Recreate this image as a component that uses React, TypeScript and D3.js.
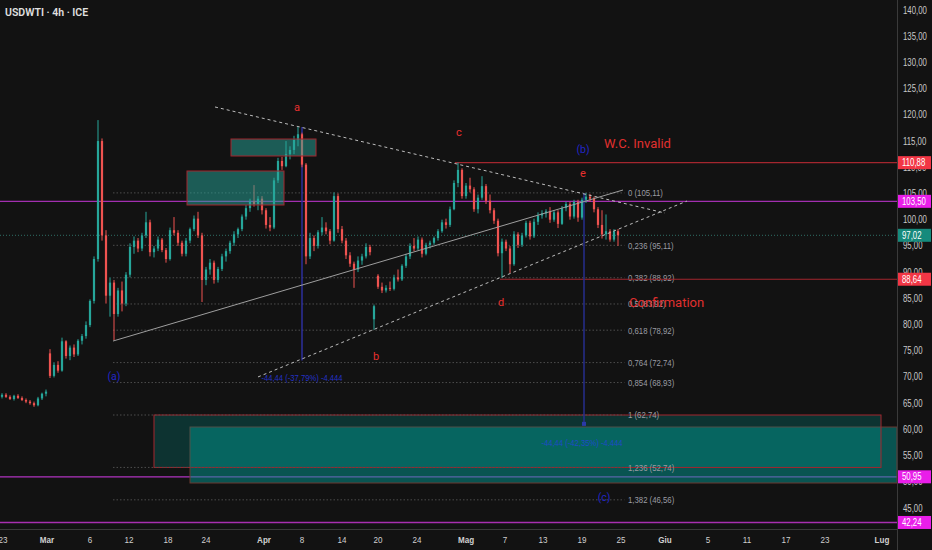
import React from 'react';
import * as d3 from 'd3';

const W = 932;
const H = 550;
const PLOT_R = 897;
const AXIS_Y = 529;

// 4h candles, [open, high, low, close]
const candles: [number, number, number, number][] = [
  [66.2, 66.9, 65.9, 66.6], [66.6, 66.9, 66.0, 66.2], [66.2, 66.5, 65.6, 65.8], [65.8, 66.6, 65.5, 66.4],
  [66.4, 66.7, 65.8, 66.0], [66.0, 66.3, 65.4, 65.6], [65.6, 65.9, 65.0, 65.3], [65.3, 65.6, 64.7, 65.0],
  [65.0, 65.3, 64.3, 64.6], [64.6, 66.2, 64.4, 65.9], [65.9, 67.0, 65.6, 66.8], [66.8, 67.6, 66.3, 67.2],
  [74.5, 75.3, 69.8, 70.2], [70.2, 72.8, 69.9, 72.3], [72.3, 73.0, 70.8, 71.2], [71.2, 77.5, 71.0, 76.8],
  [76.8, 77.0, 73.5, 74.0], [74.0, 76.0, 73.2, 75.6], [75.6, 76.2, 73.8, 74.3], [74.3, 77.2, 74.0, 76.9],
  [76.9, 78.2, 76.2, 77.8], [77.8, 80.6, 77.3, 79.9], [79.9, 84.8, 79.5, 84.5], [84.5, 93.0, 84.0, 92.5],
  [92.5, 119.0, 92.0, 115.0], [115.0, 115.5, 96.0, 97.0], [97.0, 98.0, 84.0, 85.5], [85.5, 89.0, 81.5, 88.0],
  [88.0, 88.5, 77.0, 82.0], [82.0, 87.0, 81.5, 86.5], [86.5, 88.2, 82.5, 84.0], [84.0, 90.0, 83.5, 89.5],
  [89.5, 95.5, 89.0, 94.8], [94.8, 96.8, 93.5, 96.0], [96.0, 96.5, 93.8, 94.5], [94.5, 97.5, 94.0, 97.0],
  [97.0, 101.5, 96.5, 99.5], [99.5, 100.0, 93.0, 93.8], [93.8, 95.0, 92.8, 94.5], [94.5, 96.8, 94.0, 96.2],
  [96.2, 96.5, 93.8, 94.2], [94.2, 94.6, 91.8, 92.5], [92.5, 98.5, 92.2, 98.0], [98.0, 100.5, 97.0, 97.5],
  [97.5, 98.0, 95.0, 95.6], [95.6, 96.0, 93.0, 93.5], [93.5, 96.5, 93.0, 96.0], [96.0, 98.5, 95.5, 98.2],
  [98.2, 100.8, 97.8, 100.2], [100.2, 101.5, 96.5, 97.0], [97.0, 97.5, 84.3, 88.5], [88.5, 91.0, 87.5, 90.5],
  [90.5, 92.5, 89.5, 91.8], [91.8, 92.2, 87.8, 88.5], [88.5, 91.0, 88.0, 90.6], [90.6, 93.5, 90.2, 93.0],
  [93.0, 94.5, 92.0, 94.0], [94.0, 96.0, 93.5, 95.6], [95.6, 97.8, 95.0, 97.2], [97.2, 98.5, 96.5, 98.2],
  [98.2, 101.0, 97.8, 100.6], [100.6, 102.8, 100.0, 102.2], [102.2, 104.0, 101.5, 103.5], [103.5, 106.6, 102.5, 103.0],
  [103.0, 104.5, 101.8, 104.0], [104.0, 104.5, 101.0, 101.8], [101.8, 102.2, 98.3, 99.0], [99.0, 100.5, 97.8, 98.5],
  [98.5, 108.0, 98.2, 107.5], [107.5, 111.8, 107.0, 111.2], [111.2, 112.0, 109.5, 110.2], [110.2, 115.0, 110.0, 112.5],
  [112.5, 114.0, 111.5, 113.3], [113.3, 116.0, 112.5, 115.2], [115.2, 117.7, 114.0, 116.3], [116.3, 116.6, 110.0, 110.5],
  [110.5, 110.8, 91.5, 93.0], [93.0, 97.5, 92.5, 96.5], [96.5, 97.0, 94.0, 95.0], [95.0, 98.0, 94.5, 97.6],
  [97.6, 100.5, 97.0, 98.5], [98.5, 99.5, 97.2, 97.8], [97.8, 98.2, 95.3, 96.0], [96.0, 105.2, 95.8, 104.5],
  [104.5, 105.0, 97.5, 98.2], [98.2, 98.8, 95.5, 96.0], [96.0, 96.5, 92.5, 93.2], [93.2, 93.8, 91.0, 91.6],
  [91.6, 92.0, 87.0, 90.5], [90.5, 93.0, 90.0, 92.2], [92.2, 93.5, 91.4, 93.0], [93.0, 95.5, 92.6, 94.8],
  [94.8, 95.2, 93.2, 93.8], [81.0, 83.8, 79.0, 83.5], [89.3, 89.6, 86.8, 87.2], [87.2, 88.0, 86.0, 86.5],
  [86.5, 87.5, 86.1, 87.0], [87.0, 88.2, 86.4, 86.8], [86.8, 89.5, 86.5, 89.0], [89.0, 90.5, 88.2, 88.6],
  [88.6, 91.5, 88.3, 91.2], [91.2, 93.5, 90.8, 93.0], [93.0, 95.5, 92.5, 95.0], [95.0, 96.5, 94.0, 94.5],
  [94.5, 96.8, 94.2, 96.2], [96.2, 96.6, 92.8, 93.5], [93.5, 95.6, 93.2, 95.2], [95.2, 96.0, 94.5, 95.6],
  [95.6, 96.8, 95.2, 96.5], [96.5, 98.2, 96.0, 97.8], [97.8, 100.0, 97.5, 99.5], [99.5, 100.2, 98.3, 99.0],
  [99.0, 102.5, 98.6, 102.0], [102.0, 107.5, 101.8, 107.0], [107.0, 110.9, 106.2, 109.5], [109.5, 109.8, 104.0, 104.5],
  [104.5, 107.0, 104.0, 106.5], [106.5, 108.0, 105.2, 105.8], [105.8, 106.2, 101.5, 102.0], [102.0, 104.8, 101.2, 104.2],
  [104.2, 108.3, 103.8, 106.4], [106.4, 106.8, 103.0, 103.6], [103.6, 104.8, 101.2, 101.8], [101.8, 102.2, 99.2, 99.8],
  [99.8, 100.2, 93.0, 93.6], [93.6, 96.4, 88.9, 95.8], [95.8, 96.2, 94.0, 94.5], [94.5, 95.0, 89.8, 91.5],
  [91.5, 97.8, 91.2, 97.2], [97.2, 97.6, 94.6, 95.2], [95.2, 97.5, 94.8, 97.0], [97.0, 99.8, 96.6, 99.4],
  [99.4, 99.8, 96.2, 96.8], [96.8, 100.2, 96.5, 99.6], [99.6, 101.4, 99.0, 100.8], [100.8, 101.8, 100.2, 101.2],
  [101.2, 102.0, 100.4, 101.6], [101.6, 102.4, 99.4, 100.0], [100.0, 101.8, 99.6, 101.4], [101.4, 101.8, 98.4, 99.2],
  [99.2, 102.6, 99.0, 102.2], [102.2, 103.4, 101.6, 103.0], [103.0, 103.4, 100.0, 100.6], [100.6, 103.8, 100.2, 103.4],
  [103.4, 103.8, 99.6, 100.4], [100.4, 104.2, 100.0, 103.8], [103.8, 105.1, 103.2, 104.4], [104.4, 104.9, 103.4, 104.0],
  [104.0, 104.4, 101.4, 102.0], [102.0, 102.4, 98.4, 99.0], [99.0, 101.8, 96.4, 97.2], [97.2, 101.0, 96.2, 97.8],
  [97.8, 98.2, 95.8, 96.2], [96.2, 98.2, 95.8, 97.8], [97.8, 98.2, 95.0, 97.02],
];

const priceTicks = [140, 135, 130, 125, 120, 115, 110, 105, 100, 95, 90, 85, 80, 75, 70, 65, 60, 55, 50, 45];

// date ticks, positioned in bar units
const dateTicks: [string, number, boolean][] = [
  ['23', 0.25, false], ['Mar', 11.25, true], ['6', 22, false], ['12', 31.75, false], ['18', 41.5, false],
  ['24', 51, false], ['Apr', 65.5, true], ['8', 75, false], ['14', 85, false], ['20', 94, false],
  ['24', 103.75, false], ['Mag', 116, true], ['7', 125.75, false], ['13', 135.25, false], ['19', 145, false],
  ['25', 154.75, false], ['Giu', 165.75, true], ['5', 176.5, false], ['11', 186.25, false], ['17', 196, false],
  ['23', 205.75, false], ['Lug', 220, true],
];

const fibRatios = ['0', '0,236', '0,382', '0,5', '0,618', '0,764', '0,854', '1', '1,236', '1,382'];
const fibPrices = [105.11, 95.11, 88.92, 83.92, 78.92, 72.74, 68.93, 62.74, 52.74, 46.56];

const priceTags: [number, string][] = [
  [110.88, '#f23645'], [103.5, '#e91ee9'], [97.02, '#168a7c'], [88.64, '#f23645'], [50.95, '#e91ee9'], [42.24, '#e91ee9'],
];

const fmt = (v: number) => v.toFixed(2).replace('.', ',');

// horizontally condensed text, like the narrow chart font
const NText = ({ x, y, sx = 0.8, anchor = 'start', children, ...rest }: any) => (
  <g transform={`translate(${x},${y}) scale(${sx},1)`}>
    <text x={0} y={0} dy="0.35em" textAnchor={anchor} {...rest}>{children}</text>
  </g>
);

export default function App() {
  const x = d3.scaleLinear().domain([0, candles.length - 1]).range([2, 618]);
  const y = d3.scaleLinear().domain([45, 140]).range([508, 10]);
  const bw = 2.2;
  const red = '#ef5350';
  const green = '#26a69a';

  const line = d3.line<[number, number]>().x(d => x(d[0])).y(d => y(d[1]));

  const box = (i0: number, i1: number, p0: number, p1: number, fill: string, op: number, stroke: string) => (
    <rect x={x(i0)} y={y(p0)} width={Math.min(x(i1), PLOT_R) - x(i0)} height={y(p1) - y(p0)}
      fill={fill} fillOpacity={op} stroke={stroke} strokeWidth={1} />
  );

  return (
    <svg width={W} height={H} style={{ position: 'fixed', left: 0, top: 0, background: '#121212' }}
      fontFamily="'Liberation Sans', Arial, sans-serif">
      <rect width={W} height={H} fill="#121212" />
      <defs>
        <clipPath id="plot"><rect x={0} y={0} width={PLOT_R} height={AXIS_Y} /></clipPath>
      </defs>

      <g clipPath="url(#plot)">
        {/* full-width horizontal lines */}
        <line x1={0} x2={PLOT_R} y1={y(50.95)} y2={y(50.95)} stroke="#b033c0" strokeWidth={1.3} />
        <line x1={0} x2={PLOT_R} y1={y(42.24)} y2={y(42.24)} stroke="#a82fb0" strokeWidth={1.5} />

        {/* bottom zones */}
        {box(47, 230, 60.45, 49.77, '#009690', 0.5, '#6a3a32')}
        {box(38, 219.75, 62.74, 52.74, '#009690', 0.25, '#a3262e')}

        {/* fib levels */}
        {fibPrices.map((p, k) => (
          <g key={k}>
            <line x1={x(27.75)} x2={x(155.6)} y1={y(p)} y2={y(p)} stroke="#4d4d4d" strokeDasharray="1.5,2" />
            <NText x={x(156.5)} y={y(p)} sx={0.82} fill="#9a9ca3" fontSize={9.5}>{`${fibRatios[k]} (${fmt(p)})`}</NText>
          </g>
        ))}

        {/* current price line */}
        <line x1={0} x2={PLOT_R} y1={y(97.02)} y2={y(97.02)} stroke="#2f6e66" strokeDasharray="1,2" />

        {/* level lines */}
        <line x1={0} x2={PLOT_R} y1={y(103.5)} y2={y(103.5)} stroke="#a22fb0" strokeWidth={1.3} />
        <line x1={x(113.25)} x2={PLOT_R} y1={y(110.88)} y2={y(110.88)} stroke="#a3262e" strokeWidth={1.2} />
        <line x1={x(124.5)} x2={PLOT_R} y1={y(88.64)} y2={y(88.64)} stroke="#a3262e" strokeWidth={1.2} />

        {/* measure lines */}
        <line x1={x(75)} x2={x(75)} y1={y(117.7)} y2={y(73.16)} stroke="#2c2f9c" strokeWidth={1.5} />
        <line x1={x(145.5)} x2={x(145.5)} y1={y(105.11)} y2={y(60.67)} stroke="#262e8e" strokeWidth={1.5} />
        <rect x={x(145.5) - 2} y={y(60.67) - 4} width={4} height={4} fill="#2a3aa8" />

        {/* candles */}
        {candles.map((c, i) => {
          const [o, h, l, cl] = c;
          const col = cl >= o ? green : red;
          const top = y(Math.max(o, cl));
          const bh = Math.max(1, Math.abs(y(o) - y(cl)));
          return (
            <g key={i}>
              <line x1={x(i)} x2={x(i)} y1={y(h)} y2={y(l)} stroke={col} strokeWidth={1} />
              <rect x={x(i) - bw / 2} y={top} width={bw} height={bh} fill={col} />
            </g>
          );
        })}

        {/* upper zones */}
        {box(46.25, 70.5, 109.29, 102.8, '#26a69a', 0.5, '#a3262e')}
        {box(57.25, 78.5, 115.39, 112.15, '#26a69a', 0.5, '#a3262e')}

        {/* triangle */}
        <path d={line([[53.25, 121.5], [165.75, 101.27]])!} stroke="#bdbdbd" strokeDasharray="3,3" fill="none" />
        <path d={line([[64, 70.0], [171.25, 103.56]])!} stroke="#bdbdbd" strokeDasharray="3,3" fill="none" />
        <path d={line([[27.75, 76.85], [155.25, 105.66]])!} stroke="#9e9e9e" fill="none" />

        {/* measure texts */}
        <NText x={x(75)} y={y(73.16) + 17} sx={0.85} anchor="middle" fill="#2431c4" fontSize={9}>-44,44 (-37,79%) -4.444</NText>
        <NText x={x(145)} y={y(60.67) + 17} sx={0.85} anchor="middle" fill="#1f4ac8" fontSize={9}>-44,44 (-42,35%) -4.444</NText>

        {/* wave labels */}
        <g fill="#e8302f" fontSize={11} textAnchor="middle" fontFamily="Roboto, sans-serif">
          <text x={x(73.75)} y={y(121.5)} dy="0.35em">a</text>
          <text x={x(114.25)} y={y(116.73)} dy="0.35em">c</text>
          <text x={x(145.25)} y={y(108.9)} dy="0.35em">e</text>
          <text x={x(93.5)} y={y(74.0)} dy="0.35em">b</text>
          <text x={x(124.75)} y={y(84.3)} dy="0.35em">d</text>
        </g>
        <g fill="#2326c8" fontSize={10.5} textAnchor="middle" fontFamily="Roboto, sans-serif">
          <text x={x(145.25)} y={y(113.5)} dy="0.35em">(b)</text>
          <text x={x(28)} y={y(70.2)} dy="0.35em">(a)</text>
          <text x={x(150.5)} y={y(47.1)} dy="0.35em">(c)</text>
        </g>
        <text x={x(150.5)} y={y(114.6)} dy="0.35em" fill="#e0302f" fontSize={13} fontFamily="Roboto, sans-serif">W.C. Invalid</text>
        <text x={x(156.75)} y={y(84.3)} dy="0.35em" fill="#e0302f" fontSize={13} fontFamily="Roboto, sans-serif">Confirmation</text>
      </g>

      {/* title */}
      <text x={5} y={12} dy="0.35em" fill="#e0e0e0" fontSize={10.5} fontWeight={600} fontFamily="Roboto, sans-serif">USDWTI · 4h · ICE</text>

      {/* axes */}
      <line x1={PLOT_R + 0.5} x2={PLOT_R + 0.5} y1={0} y2={H} stroke="#3a3a3a" />
      <line x1={0} x2={PLOT_R} y1={AXIS_Y + 0.5} y2={AXIS_Y + 0.5} stroke="#3a3a3a" />
      {priceTicks.map(t => (
        <NText key={t} x={903} y={y(t)} sx={0.78} fill="#c8c8c8" fontSize={10}>{fmt(t)}</NText>
      ))}
      {priceTags.map(([v, c]) => (
        <g key={v}>
          <rect x={PLOT_R + 1} y={y(v) - 6.5} width={33} height={13} fill={c} />
          <NText x={902} y={y(v)} sx={0.78} fill="#ffffff" fontSize={10}>{fmt(v)}</NText>
        </g>
      ))}
      {dateTicks.map(([lab, at, bold], k) => (
        <NText key={k} x={x(at)} y={540} sx={0.85} anchor="middle" fill="#d0d0d0" fontSize={9.5}
          fontWeight={bold ? 700 : 400}>{lab}</NText>
      ))}
    </svg>
  );
}
